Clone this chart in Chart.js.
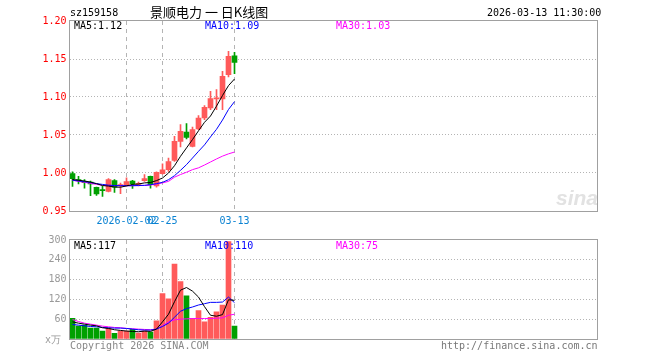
<!DOCTYPE html>
<html><head><meta charset="utf-8">
<script src="https://cdn.jsdelivr.net/npm/chart.js@4.4.1/dist/chart.umd.min.js"></script>
<style>
html,body{margin:0;padding:0;background:#fff;}
#wrap{position:relative;width:660px;height:360px;overflow:hidden;font-family:'DejaVu Sans Mono',monospace;font-size:10px;}
canvas{position:absolute;left:0;}
.t{position:absolute;white-space:nowrap;line-height:12px;}
</style></head><body>
<div id="wrap">
<canvas id="pc" width="660" height="230" style="top:0;width:660px;height:230px"></canvas>
<canvas id="vc" width="660" height="130" style="top:230px;width:660px;height:130px"></canvas>
<div class="t" style="left:70px;top:7px;color:#000">sz159158</div>
<div class="t" style="left:150px;top:3px;font-family:'Noto Sans CJK SC';font-size:13px;line-height:18px;color:#000">景顺电力 一 日K线图</div>
<div class="t" style="left:487px;top:7px;color:#000">2026-03-13 11:30:00</div>
<div class="t" id="pm5" style="left:74px;top:20px;color:#000"></div>
<div class="t" id="pm10" style="left:205px;top:20px;color:#0000ff"></div>
<div class="t" id="pm30" style="left:336px;top:20px;color:#ff00ff"></div>
<div class="t" id="vm5" style="left:74px;top:240px;color:#000"></div>
<div class="t" id="vm10" style="left:205px;top:240px;color:#0000ff"></div>
<div class="t" id="vm30" style="left:336px;top:240px;color:#ff00ff"></div>
<div class="t" style="left:45px;top:334px;color:#999">x万</div>
<div class="t" style="left:70px;top:340px;color:#888">Copyright 2026 SINA.COM</div>
<div class="t" style="left:441px;top:340px;color:#777">http://finance.sina.com.cn</div>
</div>
<script>
// ---- data ----
const xTickLabels = ['','','','','','','','','','2026-02-02','','','','','','02-25','','','','','','','','','','','','03-13'];
const candleOpen  = [0.9991,0.9912,0.9890,0.9880,0.9810,0.9775,0.9758,0.9899,0.9835,0.9837,0.9895,0.9850,0.9899,0.9955,0.9830,0.9990,1.0043,1.0166,1.0416,1.0539,1.0350,1.0579,1.0724,1.0855,1.0975,1.0974,1.1293,1.1543];
const candleHigh  = [1.0015,0.9955,0.9912,0.9895,0.9815,0.9824,0.9925,0.9912,0.9868,0.9938,0.9905,0.9880,0.9978,0.9960,1.0015,1.0122,1.0197,1.0482,1.0636,1.0649,1.0605,1.0754,1.0886,1.1074,1.1096,1.1337,1.1600,1.1587];
const candleLow   = [0.9824,0.9855,0.9800,0.9701,0.9705,0.9692,0.9750,0.9745,0.9728,0.9830,0.9797,0.9830,0.9890,0.9800,0.9815,0.9985,1.0021,1.0153,1.0342,1.0447,1.0342,1.0570,1.0701,1.0833,1.0833,1.0833,1.1263,1.1307];
const candleClose = [0.9925,0.9899,0.9872,0.9855,0.9724,0.9768,0.9912,0.9812,0.9845,0.9886,0.9860,0.9860,0.9925,0.9846,1.0008,1.0043,1.0149,1.0416,1.0547,1.0468,1.0570,1.0724,1.0863,1.0978,1.0985,1.1271,1.1534,1.1455];
const priceMA5  = [0.9915,0.9905,0.9895,0.9880,0.9860,0.9835,0.9828,0.9815,0.9813,0.9830,0.9850,0.9855,0.9870,0.9875,0.9900,0.9934,1.0000,1.0096,1.0220,1.0330,1.0440,1.0555,1.0667,1.0750,1.0880,1.1020,1.1150,1.1237];
const priceMA10 = [0.9905,0.9895,0.9885,0.9875,0.9860,0.9850,0.9840,0.9835,0.9833,0.9833,0.9833,0.9835,0.9838,0.9846,0.9860,0.9877,0.9912,0.9965,1.0035,1.0110,1.0197,1.0285,1.0370,1.0475,1.0575,1.0697,1.0836,1.0939];
const priceMA30 = [0.9904,0.9890,0.9877,0.9864,0.9850,0.9838,0.9833,0.9833,0.9833,0.9833,0.9833,0.9835,0.9836,0.9842,0.9855,0.9870,0.9890,0.9945,0.9980,1.0010,1.0044,1.0068,1.0105,1.0145,1.0185,1.0222,1.0252,1.0276];
const volume = [63,39,42,33,33,24,33,17,24,24,29,18,24,21,55,138,122,227,174,131,63,86,52,66,82,103,295,39];
const volMA5  = [52,48,45,42,40,34,32,28,26,24,23,22,24,23,30,52,75,113,148,156,145,127,98,72,69,74,119,117];
const volMA10 = [44,42,40,38,37,35,34,33,33,32,30,28,27,27,30,38,48,66,84,92,97,103,107,111,111,112,127,110];
const volMA30 = [59,53,48,45,42,39,37,35,34,32,31,30,29,28,30,40,52,58,60,61,62,62,62,62,63,64,72,75];
const priceTicks = [0.95,1.00,1.05,1.10,1.15,1.20];
const volTicks = [0,60,120,180,240,300];
const SLOTS = 88;

const RED = '#ff5a5a', GREEN = '#00a000', GRID = '#b4b4b4', FRAME = '#a0a0a0';
const FONT = {family:"'DejaVu Sans Mono', monospace", size:10};
const labels = Array.from({length:SLOTS}, (_, i) => i < xTickLabels.length ? xTickLabels[i] : '');
const up = candleOpen.map((o, i) => candleClose[i] >= o);
const col = up.map(u => u ? RED : GREEN);

document.getElementById('pm5').textContent = 'MA5:' + priceMA5[priceMA5.length-1].toFixed(2);
document.getElementById('pm10').textContent = 'MA10:' + priceMA10[priceMA10.length-1].toFixed(2);
document.getElementById('pm30').textContent = 'MA30:' + priceMA30[priceMA30.length-1].toFixed(2);
document.getElementById('vm5').textContent = 'MA5:' + volMA5[volMA5.length-1];
document.getElementById('vm10').textContent = 'MA10:' + volMA10[volMA10.length-1];
document.getElementById('vm30').textContent = 'MA30:' + volMA30[volMA30.length-1];

const frame = {
  id:'frame',
  beforeDatasetsDraw(chart, args, opts){
    if (opts.logo) {
      const c = chart.ctx; c.save();
      c.font = 'italic bold 21px "Liberation Sans", sans-serif';
      c.fillStyle = '#e2e2e2';
      c.fillText('sina', 556, 205);
      c.restore();
    }
  },
  afterDraw(chart){
    const a = chart.chartArea, c = chart.ctx;
    c.save(); c.strokeStyle = FRAME; c.lineWidth = 1;
    const l = Math.floor(a.left) + 0.5, t = Math.round(a.top) - 0.5;
    const r = Math.floor(a.right) + 0.5, b = Math.round(a.bottom) + 0.5;
    c.strokeRect(l, t, r - l, b - t);
    c.restore();
  }
};

function xScale(showTicks, h){
  return {
    type:'category', offset:true,
    grid:{offset:false, drawTicks:false, lineWidth:1,
      color: ctx => (labels[ctx.index] ? GRID : 'rgba(0,0,0,0)')},
    border:{display:false, dash:[4,4]},
    ticks:{display:showTicks, autoSkip:false, maxRotation:0, minRotation:0, padding:4,
      color:'#0a82d2', font:FONT, callback:(v, i) => labels[i]},
    afterFit: s => { s.height = h; }
  };
}
function yScale(ticks, color, hideZero){
  const mn = ticks[0], mx = ticks[ticks.length-1];
  return {
    min:mn, max:mx,
    afterBuildTicks: s => { s.ticks = ticks.map(v => ({value:v})); },
    grid:{drawTicks:false, color: ctx => (ctx.tick && (ctx.tick.value === mn || ctx.tick.value === mx)) ? 'rgba(0,0,0,0)' : GRID},
    border:{display:false, dash:[1,2]},
    ticks:{padding:3, color:color, font:FONT,
      callback: v => (hideZero && v === 0) ? '' : (hideZero ? String(v) : Number(v).toFixed(2))},
    afterFit: s => { s.width = 69.5; }
  };
}
const common = {
  responsive:false, animation:false, devicePixelRatio:1,
  plugins:{legend:{display:false}, tooltip:{enabled:false}},
  elements:{point:{radius:0}, line:{borderWidth:1, tension:0}}
};
function line(data, color, order){
  return {type:'line', data, borderColor:color, borderWidth:1, pointRadius:0, fill:false, order};
}

new Chart(document.getElementById('pc'), {
  type:'bar',
  data:{labels, datasets:[
    {type:'bar', data:candleLow.map((l, i) => [l, candleHigh[i]]), backgroundColor:col, barThickness:1, grouped:false, order:4},
    {type:'bar', data:candleOpen.map((o, i) => [o, candleClose[i]]), backgroundColor:col, barThickness:5, grouped:false, minBarLength:1, order:3},
    line(priceMA30, '#ff00ff', 2),
    line(priceMA10, '#0000ff', 1),
    line(priceMA5, '#000000', 0)
  ]},
  options:Object.assign({}, common, {
    layout:{padding:{top:21, right:62.5, left:0, bottom:0}},
    plugins:{legend:{display:false}, tooltip:{enabled:false}, frame:{logo:true}},
    scales:{x:xScale(true, 19), y:yScale(priceTicks, '#ff0000', false)}
  }),
  plugins:[frame]
});

new Chart(document.getElementById('vc'), {
  type:'bar',
  data:{labels, datasets:[
    {type:'bar', data:volume, backgroundColor:col, barThickness:5, grouped:false, order:3},
    line(volMA30, '#ff00ff', 2),
    line(volMA10, '#0000ff', 1),
    line(volMA5, '#000000', 0)
  ]},
  options:Object.assign({}, common, {
    layout:{padding:{top:10, right:62.5, left:0, bottom:0}},
    plugins:{legend:{display:false}, tooltip:{enabled:false}, frame:{logo:false}},
    scales:{x:xScale(false, 21), y:yScale(volTicks, '#999999', true)}
  }),
  plugins:[frame]
});
</script>
</body></html>
